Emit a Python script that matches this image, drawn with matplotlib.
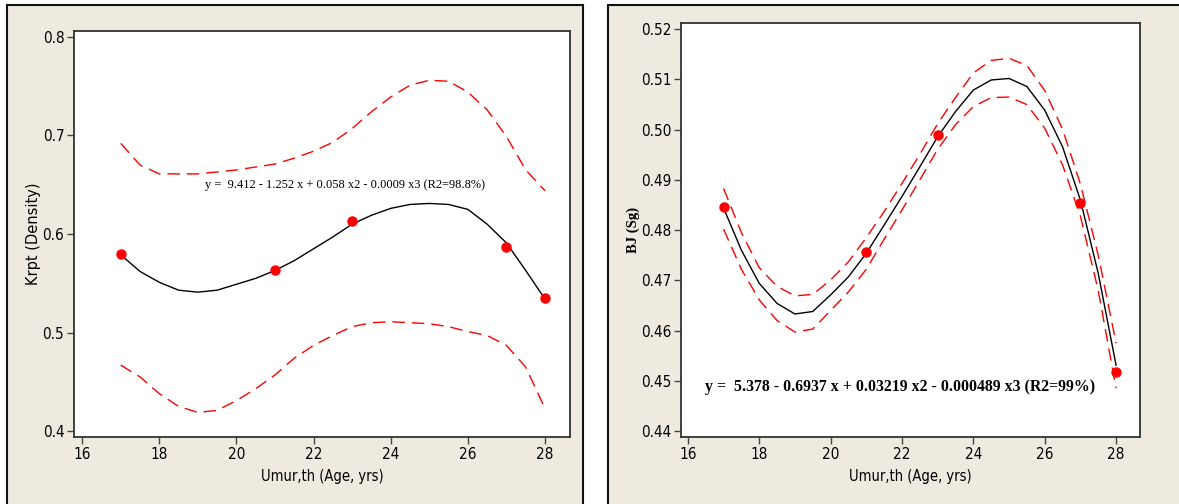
import matplotlib
matplotlib.use("Agg")
from matplotlib import pyplot as plt
from matplotlib.patches import Rectangle

# measured points
age_pts = [17, 21, 23, 27, 28]
krpt_pts = [0.580, 0.563, 0.613, 0.587, 0.535]
bj_pts = [0.4846, 0.4757, 0.4990, 0.4855, 0.4518]

# fitted curve + confidence bands, every half year
age_fit = [17, 17.5, 18, 18.5, 19, 19.5, 20, 20.5, 21, 21.5, 22, 22.5,
           23, 23.5, 24, 24.5, 25, 25.5, 26, 26.5, 27, 27.5, 28]

krpt_fit = [0.579, 0.562, 0.551, 0.543, 0.541, 0.543, 0.549, 0.555, 0.563,
            0.573, 0.585, 0.597, 0.610, 0.619, 0.626, 0.630, 0.631, 0.630,
            0.625, 0.610, 0.591, 0.563, 0.534]
krpt_up = [0.692, 0.670, 0.661, 0.661, 0.661, 0.663, 0.665, 0.668, 0.671,
           0.677, 0.684, 0.693, 0.707, 0.724, 0.739, 0.751, 0.756, 0.755,
           0.744, 0.726, 0.699, 0.665, 0.644]
krpt_lo = [0.467, 0.455, 0.438, 0.425, 0.419, 0.421, 0.431, 0.443, 0.457,
           0.474, 0.487, 0.497, 0.506, 0.510, 0.511, 0.510, 0.509, 0.506,
           0.501, 0.497, 0.487, 0.465, 0.423]

bj_fit = [0.4844, 0.4760, 0.4694, 0.4654, 0.4633, 0.4638, 0.4671, 0.4707,
          0.4754, 0.4810, 0.4867, 0.4926, 0.4986, 0.5036, 0.5079, 0.5099,
          0.5102, 0.5086, 0.5039, 0.4966, 0.4860, 0.4714, 0.4531]
bj_up = [0.4883, 0.4795, 0.4725, 0.4688, 0.4669, 0.4672, 0.4701, 0.4737,
         0.4785, 0.4837, 0.4893, 0.4951, 0.5012, 0.5064, 0.5113, 0.5138,
         0.5142, 0.5128, 0.5078, 0.5001, 0.4892, 0.4750, 0.4575]
bj_lo = [0.4802, 0.4722, 0.4661, 0.4620, 0.4597, 0.4603, 0.4640, 0.4677,
         0.4722, 0.4782, 0.4840, 0.4900, 0.4961, 0.5010, 0.5046, 0.5064,
         0.5065, 0.5050, 0.5003, 0.4930, 0.4828, 0.4680, 0.4485]

x_ticks = [16, 18, 20, 22, 24, 26, 28]
krpt_ticks = [0.4, 0.5, 0.6, 0.7, 0.8]
bj_ticks = [0.44, 0.45, 0.46, 0.47, 0.48, 0.49, 0.50, 0.51, 0.52]
bj_labels = ["0.44", "0.45", "0.46", "0.47", "0.48", "0.49", "0.50", "0.51", "0.52"]

SANS = ["DejaVu Sans"]
SERIF = ["Liberation Serif", "DejaVu Serif"]
BEIGE = "#eeeae0"

fig = plt.figure(figsize=(11.79, 5.04), dpi=100)
fig.patch.set_facecolor("white")

# beige panels, bottom edge runs off the picture
for x0, w in [(0.0059, 0.4886), (0.5161, 0.6)]:
    fig.patches.append(Rectangle((x0, -0.2), w, 1.191, transform=fig.transFigure,
                                 facecolor=BEIGE, edgecolor="#111111", lw=1.5,
                                 zorder=-5))


def style(ax):
    ax.set_facecolor("white")
    for s in ax.spines.values():
        s.set_color("#333333")
        s.set_linewidth(1.3)
    ax.tick_params(direction="out", length=5, width=1, color="#444444",
                   labelsize=11, pad=2)
    ax.set_xticks(x_ticks)
    for lab in ax.get_xticklabels() + ax.get_yticklabels():
        lab.set_family(SANS)
        lab.set_stretch("condensed")
    ax.set_xlabel("Umur,th (Age, yrs)", family=SANS, fontstretch="condensed",
                  fontsize=10.5, labelpad=5)


def draw(ax, fit, up, lo, pts):
    ax.plot(age_fit, up, color="red", lw=1, ls=(0, (9, 5)))
    ax.plot(age_fit, lo, color="red", lw=1, ls=(0, (9, 5)))
    ax.plot(age_fit, fit, color="black", lw=1)
    ax.plot(age_pts, pts, "o", color="red", ms=6.5, zorder=5)


# left: density
ax1 = fig.add_axes([0.0628, 0.1329, 0.4207, 0.8056])
draw(ax1, krpt_fit, krpt_up, krpt_lo, krpt_pts)
ax1.set_xlim(15.79, 28.65)
ax1.set_ylim(0.394, 0.806)
ax1.set_yticks(krpt_ticks)
style(ax1)
ax1.set_ylabel("Krpt (Density)", family=SANS, fontsize=10.5, labelpad=1)
ax1.text(19.19, 0.65, "y =  9.412 - 1.252 x + 0.058 x2 - 0.0009 x3 (R2=98.8%)",
         family=SERIF, fontsize=8.9, va="center")

# right: specific gravity
ax2 = fig.add_axes([0.578, 0.1329, 0.3889, 0.8220])
draw(ax2, bj_fit, bj_up, bj_lo, bj_pts)
ax2.set_xlim(15.82, 28.67)
ax2.set_ylim(0.4388, 0.5213)
ax2.set_yticks(bj_ticks)
ax2.set_yticklabels(bj_labels)
style(ax2)
ax2.set_ylabel("BJ (Sg)", family=SERIF, fontweight="bold", fontsize=10.5, labelpad=1)
ax2.text(16.48, 0.4488, "y =  5.378 - 0.6937 x + 0.03219 x2 - 0.000489 x3 (R2=99%)",
         family=SERIF, fontweight="bold", fontsize=11.4, va="center")

fig.savefig("out.png", dpi=100, facecolor=fig.get_facecolor())
